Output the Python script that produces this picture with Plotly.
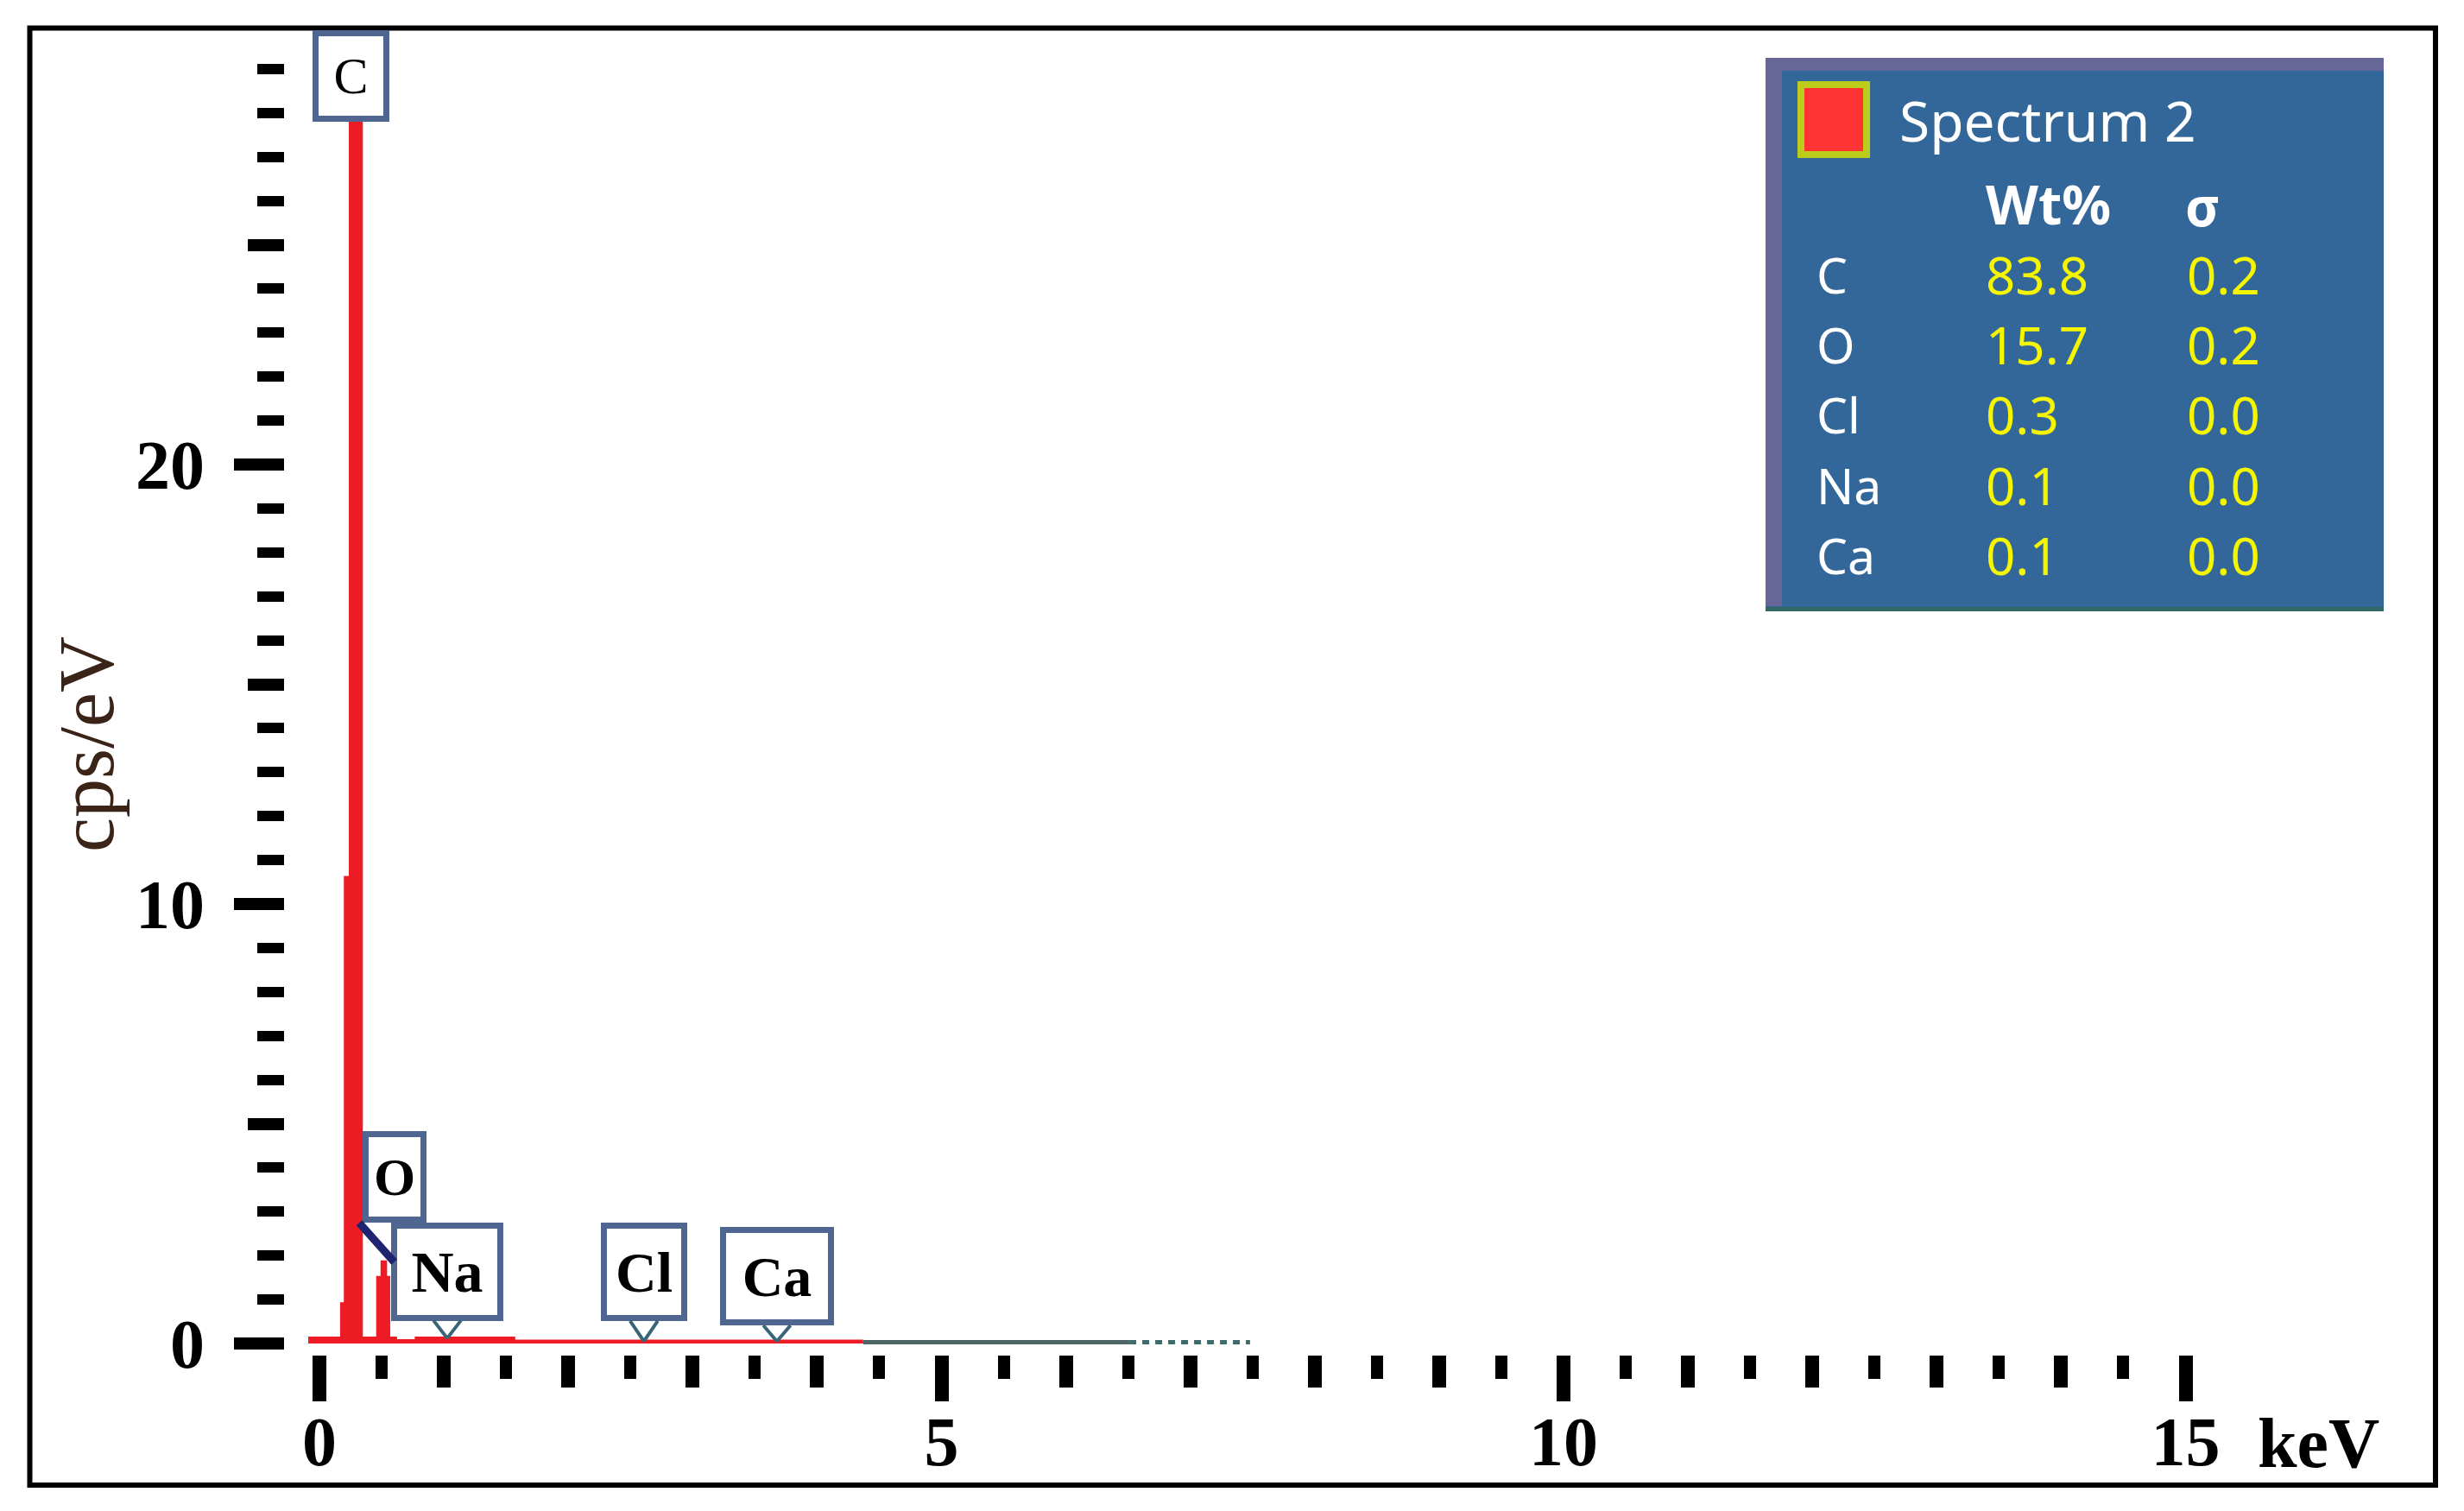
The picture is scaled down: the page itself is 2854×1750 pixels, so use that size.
import plotly.graph_objects as go

W, H = 2854, 1750

# ---------------- data ----------------
energy_kev = [-0.09, 0.18, 0.21, 0.25, 0.335, 0.47, 0.505, 0.53, 0.555, 0.61, 0.78, 1.56, 4.37]
cps_ev = [0.12, 0.9, 10.6, 27.8, 0.12, 1.5, 1.85, 1.5, 0.12, 0.06, 0.12, 0.05, 0.05]
tail_kev = [4.37, 6.51]
tail_cps = [0.03, 0.03]
tail_dot_kev = [6.51, 7.48]
tail_dot_cps = [0.03, 0.03]

label_elems = ["C", "O", "Na", "Cl", "Ca"]
label_kev = [0.277, 0.525, 1.041, 2.622, 3.691]

quant_elems = ["C", "O", "Cl", "Na", "Ca"]
quant_wt = [83.8, 15.7, 0.3, 0.1, 0.1]
quant_sigma = [0.2, 0.2, 0.0, 0.0, 0.0]
spectrum_name = "Spectrum 2"

x_major = [0, 5, 10, 15]
x_tick_text = ["0", "5", "10", "15"]
x_medium = [1, 2, 3, 4, 6, 7, 8, 9, 11, 12, 13, 14]
x_minor = [0.5, 1.5, 2.5, 3.5, 4.5, 5.5, 6.5, 7.5, 8.5, 9.5, 10.5, 11.5, 12.5, 13.5, 14.5]
x_unit = "keV"
y_major = [0, 10, 20]
y_medium = [5, 15, 25]
y_minor = [1, 2, 3, 4, 6, 7, 8, 9, 11, 12, 13, 14, 16, 17, 18, 19, 21, 22, 23, 24, 26, 27, 28, 29]
y_title = "cps/eV"

# ---------------- geometry / style ----------------
X0_PX, KEV_PX = 370.0, 144.1
Y0_PX, CPS_PX = 1556.0, 50.9
x_range = [(0 - X0_PX) / KEV_PX, (W - X0_PX) / KEV_PX]
y_range = [(Y0_PX - H) / CPS_PX, Y0_PX / CPS_PX]
YAX_POS = 329.0 / W
XAX_POS = 1 - 1569.0 / H

RED = "#ED1C24"
BOX_LINE = "#4F6690"
NOTCH = "#3A6478"
SERIF = "Liberation Serif"
SANS = "Noto Sans"


def px(xp):
    return xp / W


def py(yp):
    return 1 - yp / H


def spec_at(e):
    v = cps_ev[0]
    for ek, c in zip(energy_kev, cps_ev):
        if ek <= e:
            v = c
    return v


fig = go.Figure()
fig.add_trace(go.Scatter(x=energy_kev, y=cps_ev, mode="lines",
                         line=dict(color=RED, width=4, shape="hv"),
                         fill="tozeroy", fillcolor=RED, hoverinfo="skip", showlegend=False))
fig.add_trace(go.Scatter(x=tail_kev, y=tail_cps, mode="lines",
                         line=dict(color="#4F6666", width=5), hoverinfo="skip", showlegend=False))
fig.add_trace(go.Scatter(x=tail_dot_kev, y=tail_dot_cps, mode="lines",
                         line=dict(color="#3D6B6B", width=5, dash="8px,7px"),
                         hoverinfo="skip", showlegend=False))
fig.add_trace(go.Scatter(x=[None], y=[None], xaxis="x2", yaxis="y2", mode="markers",
                         hoverinfo="skip", showlegend=False))

tickfont = dict(family=SERIF, size=80, color="black", weight="bold")
common = dict(showline=False, showgrid=False, zeroline=False, fixedrange=True)

fig.update_layout(
    width=W, height=H, autosize=False,
    margin=dict(l=0, r=0, t=0, b=0, pad=0),
    paper_bgcolor="white", plot_bgcolor="white",
    showlegend=False,
    xaxis=dict(domain=[0, 1], range=x_range, anchor="free", position=XAX_POS, side="bottom",
               ticks="outside", tickmode="array", tickvals=x_major, ticktext=x_tick_text,
               ticklen=53, tickwidth=16, tickcolor="black", tickfont=tickfont,
               ticklabelstandoff=-22,
               minor=dict(ticks="outside", tickmode="array", tickvals=x_minor,
                          ticklen=27, tickwidth=14, tickcolor="black"),
               **common),
    xaxis2=dict(overlaying="x", range=x_range, anchor="free", position=XAX_POS, side="bottom",
                ticks="outside", tickmode="array", tickvals=x_medium, showticklabels=False,
                ticklen=37, tickwidth=16, tickcolor="black", **common),
    yaxis=dict(domain=[0, 1], range=y_range, anchor="free", position=YAX_POS, side="left",
               ticks="outside", tickmode="array", tickvals=y_major,
               ticklen=58, tickwidth=14, tickcolor="black", tickfont=tickfont,
               ticklabelstandoff=18,
               minor=dict(ticks="outside", tickmode="array", tickvals=y_minor,
                          ticklen=31, tickwidth=12, tickcolor="black"),
               **common),
    yaxis2=dict(overlaying="y", range=y_range, anchor="free", position=YAX_POS, side="left",
                ticks="outside", tickmode="array", tickvals=y_medium, showticklabels=False,
                ticklen=42, tickwidth=14, tickcolor="black", **common),
)

shapes = []
# outer frame
shapes.append(dict(type="rect", xref="paper", yref="paper", x0=px(34.5), x1=px(2821),
                   y0=py(1720), y1=py(32.5), line=dict(color="black", width=6), layer="above"))
# quant panel
shapes.append(dict(type="rect", xref="paper", yref="paper", x0=px(2045), x1=px(2761),
                   y0=py(708), y1=py(67), fillcolor="#336699", line=dict(width=0), layer="above"))
shapes.append(dict(type="rect", xref="paper", yref="paper", x0=px(2045), x1=px(2761),
                   y0=py(82), y1=py(67), fillcolor="#666699", line=dict(width=0), layer="above"))
shapes.append(dict(type="rect", xref="paper", yref="paper", x0=px(2045), x1=px(2064),
                   y0=py(702), y1=py(67), fillcolor="#666699", line=dict(width=0), layer="above"))
shapes.append(dict(type="rect", xref="paper", yref="paper", x0=px(2045), x1=px(2761),
                   y0=py(708), y1=py(703), fillcolor="#336666", line=dict(width=0), layer="above"))
shapes.append(dict(type="rect", xref="paper", yref="paper", x0=px(2086), x1=px(2162),
                   y0=py(179), y1=py(98), fillcolor="#FF3333",
                   line=dict(color="#BCCC1A", width=8), layer="above"))
fig.update_layout(shapes=shapes)

ann = []
# box geometry in pixels relative to the pointed peak
LBL = {
    "C": dict(kind="top", xshift=-3.5, w=89, h=106, size=60, bold=False),
    "O": dict(kind="float", xshift=11.3, yshift=98.8, w=74, h=106, size=62, bold=True),
    "Na": dict(kind="notch", xshift=-2, yshift=77, w=130, h=114, size=68, bold=True),
    "Cl": dict(kind="notch", xshift=-2, yshift=80, w=100, h=114, size=66, bold=True),
    "Ca": dict(kind="notch", xshift=-2, yshift=75, w=132, h=114, size=66, bold=True),
}
BW = 7
notches = []
for el, e in zip(label_elems, label_kev):
    st = LBL[el]
    font = dict(family=SERIF, size=st["size"], color="black",
                weight="bold" if st["bold"] else "normal")
    base = dict(xref="x", yref="y", x=e, text=el, font=font, bgcolor="white",
                bordercolor=BOX_LINE, borderwidth=BW, borderpad=0, showarrow=False,
                width=st["w"] - 2 * BW, height=st["h"] - 2 * BW, align="center", valign="middle",
                xanchor="center", xshift=st["xshift"])
    if st["kind"] == "top":
        base.update(y=max(cps_ev), yanchor="bottom")
    else:
        base.update(y=spec_at(e), yanchor="middle", yshift=st["yshift"])
    ann.append(base)
    if st["kind"] == "notch":
        drop = st["yshift"] - st["h"] / 2 + 2
        for side in (-1, 1):
            notches.append(dict(xref="x", yref="y", x=e, y=spec_at(e), xshift=st["xshift"],
                                text="", showarrow=True, ax=side * 17, ay=-drop,
                                arrowhead=0, arrowwidth=4, arrowcolor=NOTCH))
ann.extend(notches)

# O pointer line
ann.append(dict(xref="x", yref="y", x=label_kev[1], y=spec_at(label_kev[1]), xshift=11,
                text="", showarrow=True, ax=-42, ay=-47, arrowhead=0, arrowwidth=9,
                arrowcolor="#1F2470"))

# axis title and unit
ann.append(dict(xref="paper", yref="paper", x=px(100), y=py(862), text=y_title, showarrow=False,
                textangle=-90, xanchor="center", yanchor="middle",
                font=dict(family=SERIF, size=90, color="#3a2418")))
ann.append(dict(xref="x", yref="paper", x=x_major[-1], xshift=81, y=py(1671), text=x_unit,
                showarrow=False, xanchor="left", yanchor="middle",
                font=dict(family=SERIF, size=82, color="black", weight="bold")))

# quant panel text
ann.append(dict(xref="paper", yref="paper", x=px(2198), y=py(140), text=spectrum_name,
                showarrow=False, xanchor="left", yanchor="middle",
                font=dict(family=SANS, size=64, color="white")))
ann.append(dict(xref="paper", yref="paper", x=px(2298), y=py(235), text="Wt%",
                showarrow=False, xanchor="left", yanchor="middle",
                font=dict(family=SANS, size=63, color="white", weight="bold")))
ann.append(dict(xref="paper", yref="paper", x=px(2551), y=py(238), text="σ",
                showarrow=False, xanchor="center", yanchor="middle",
                font=dict(family=SANS, size=62, color="white", weight="bold")))
row_y = [318, 399, 480, 562, 643]
for yy, el, wt, sg in zip(row_y, quant_elems, quant_wt, quant_sigma):
    ann.append(dict(xref="paper", yref="paper", x=px(2102), y=py(yy), text=el,
                    showarrow=False, xanchor="left", yanchor="middle",
                    font=dict(family=SANS, size=57, color="white")))
    ann.append(dict(xref="paper", yref="paper", x=px(2298), y=py(yy), text=f"{wt:.1f}",
                    showarrow=False, xanchor="left", yanchor="middle",
                    font=dict(family=SANS, size=60, color="#F5F500")))
    ann.append(dict(xref="paper", yref="paper", x=px(2531), y=py(yy), text=f"{sg:.1f}",
                    showarrow=False, xanchor="left", yanchor="middle",
                    font=dict(family=SANS, size=60, color="#F5F500")))

fig.update_layout(annotations=ann)
fig.write_html("out.html", config={"displayModeBar": False},
               post_script="document.body.style.margin='0';document.body.style.overflow='hidden';")
